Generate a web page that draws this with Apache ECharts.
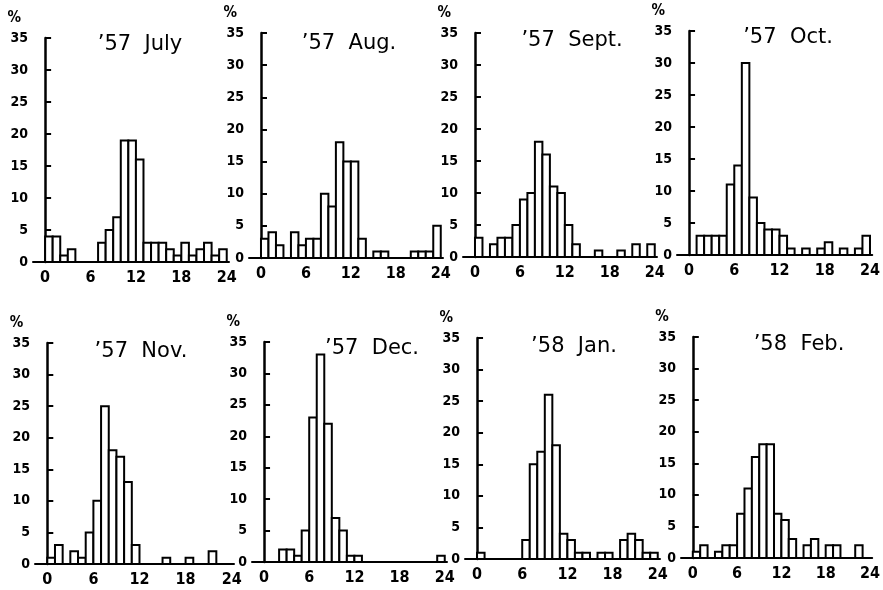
<!DOCTYPE html>
<html><head><meta charset="utf-8">
<script src="https://cdn.jsdelivr.net/npm/echarts@6/dist/echarts.min.js"></script>
<style>html,body{margin:0;padding:0;background:#fff}#c{width:883px;height:590px}</style>
</head><body><div id="c"></div>
<script>
const hours = [0,1,2,3,4,5,6,7,8,9,10,11,12,13,14,15,16,17,18,19,20,21,22,23];
const xTicks = [0,6,12,18,24];
const panelTitles = ['’57  July','’57  Aug.','’57  Sept.','’57  Oct.','’57  Nov.','’57  Dec.','’58  Jan.','’58  Feb.'];
const julyVals = [4,4,1,2,0,0,0,3,5,7,19,19,16,3,3,3,2,1,3,1,2,3,1,2];
const augVals  = [3,4,2,0,4,2,3,3,10,8,18,15,15,3,0,1,1,0,0,0,1,1,1,5];
const septVals = [3,0,2,3,3,5,9,10,18,16,11,10,5,2,0,0,1,0,0,1,0,2,0,2];
const octVals  = [0,3,3,3,3,11,14,30,9,5,4,4,3,1,0,1,0,1,2,0,1,0,1,3];
const novVals  = [1,3,0,2,1,5,10,25,18,17,13,3,0,0,0,1,0,0,1,0,0,2,0,0];
const decVals  = [0,0,2,2,1,5,23,33,22,7,5,1,1,0,0,0,0,0,0,0,0,0,0,1];
const janVals  = [1,0,0,0,0,0,3,15,17,26,18,4,3,1,1,0,1,1,0,3,4,3,1,1];
const febVals  = [1,2,0,1,2,2,7,11,16,18,18,7,6,3,0,2,3,0,2,2,0,0,2,0];
const allVals = [julyVals,augVals,septVals,octVals,novVals,decVals,janVals,febVals];

// layout (pixels)
const grids = [
  {left:33, top:38, width:196, height:224},
  {left:249,top:33, width:194, height:225},
  {left:463,top:33, width:194, height:224},
  {left:677,top:31, width:199, height:224},
  {left:35, top:343,width:199, height:221},
  {left:252,top:342,width:195, height:220},
  {left:465,top:338,width:195, height:221},
  {left:681,top:337,width:199, height:221}
];
const titlePos = [[135,29],[344,28],[567,25],[783,22],[136,336],[367,333],[569,331],[794,329]];

const labelFont = {fontFamily:'DejaVu Sans Condensed', fontWeight:'bold', color:'#000'};

function renderItem(params, api){
  const h = api.value(0), v = api.value(1);
  if (!v) return null;
  const p0 = api.coord([h, v]);
  const p1 = api.coord([h + 1, 0]);
  return {type:'rect', shape:{x:p0[0], y:p0[1], width:p1[0]-p0[0], height:p1[1]-p0[1]},
          style:{fill:'#fff', stroke:'#000', lineWidth:2}};
}

const option = {
  animation:false,
  backgroundColor:'#fff',
  title: panelTitles.map((t,i)=>({text:t, left:titlePos[i][0], top:titlePos[i][1], textAlign:'center',
    textStyle:{fontFamily:'DejaVu Sans', fontWeight:'normal', fontSize:21, color:'#000'}})),
  grid: grids.map(g=>Object.assign({containLabel:false}, g)),
  xAxis: grids.map((g,i)=>({type:'value', gridIndex:i, min:-1.6, max:24.3,
    axisLine:{show:true, onZero:false, lineStyle:{color:'#000', width:2}},
    axisTick:{show:false}, splitLine:{show:false},
    axisLabel:Object.assign({customValues:xTicks, margin:8, fontSize:16}, labelFont)})),
  yAxis: grids.map((g,i)=>({type:'value', gridIndex:i, min:0, max:35, interval:5,
    name:'%', nameLocation:'end', nameGap:12,
    nameTextStyle:Object.assign({fontSize:15, align:'right', padding:[0,24,0,0]}, labelFont),
    axisLine:{show:true, lineStyle:{color:'#000', width:2.5}},
    axisTick:{show:true, inside:true, length:6, lineStyle:{color:'#000', width:2}},
    splitLine:{show:false},
    axisLabel:Object.assign({margin:5, fontSize:14}, labelFont)})),
  series: allVals.map((vals,i)=>({type:'custom', xAxisIndex:i, yAxisIndex:i,
    renderItem: renderItem, encode:{x:0, y:1},
    data: hours.map((h,j)=>[h, vals[j]])}))
};
echarts.init(document.getElementById('c')).setOption(option);
</script></body></html>
